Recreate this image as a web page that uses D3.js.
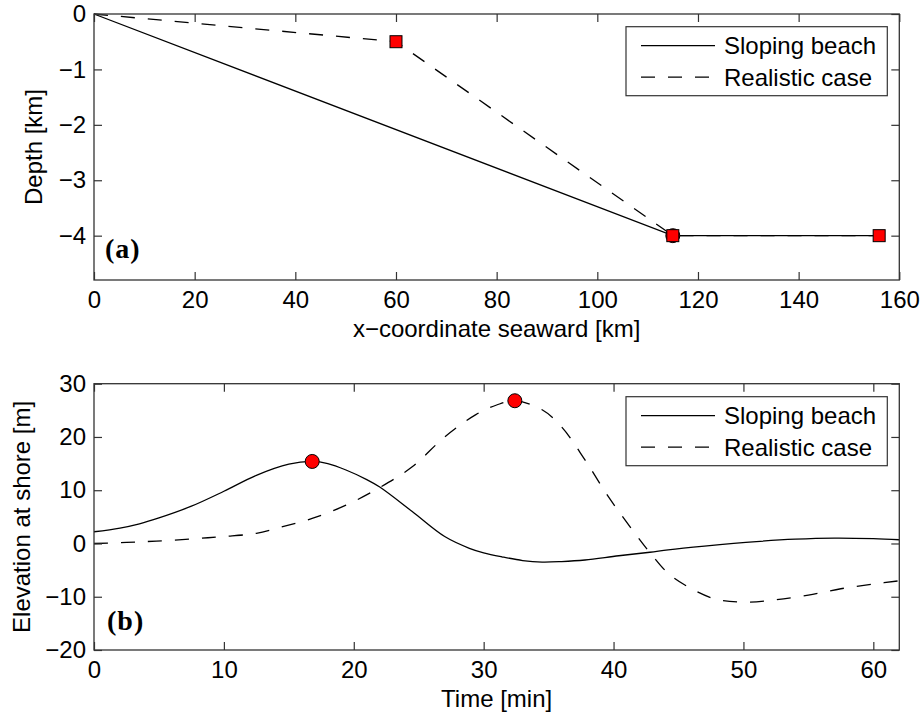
<!DOCTYPE html>
<html>
<head>
<meta charset="utf-8">
<script src="https://cdn.jsdelivr.net/npm/d3@7"></script>
<style>
  html, body { margin: 0; padding: 0; background: #fff; }
  svg { display: block; }
  text { font-family: "Liberation Sans", Arial, Helvetica, sans-serif; fill: #000; }
</style>
</head>
<body>
<svg id="chart" width="921" height="716"></svg>
<script>
// ---------- Data (panel a) ----------
const slopingX = [0, 115, 156];
const slopingDepth = [0, -4, -4];
const realisticX = [0, 60, 115, 156];
const realisticDepth = [0, -0.5, -4, -4];
const squareX = [60, 115, 156];
const squareDepth = [-0.5, -4, -4];
const circleX = [115];
const circleDepth = [-4];
const depthTicks = [0, -1, -2, -3, -4];
const xTicksA = [0, 20, 40, 60, 80, 100, 120, 140, 160];

// ---------- Data (panel b) ----------
const slopingT = [0, 2, 3.5, 5, 7.5, 10, 12.5, 15, 16.8, 18, 19.4, 21, 22, 24.5, 27, 28.9, 30, 31.4, 33, 34.5, 36, 37.8, 40.4, 42.8, 44.2, 47, 51, 54, 57, 60, 62];
const slopingElev = [2.2, 2.9, 3.7, 4.8, 7.0, 9.8, 12.8, 14.9, 15.4, 15.0, 13.8, 12.0, 10.6, 6.0, 1.3, -0.9, -1.75, -2.5, -3.2, -3.5, -3.4, -3.1, -2.3, -1.65, -1.2, -0.5, 0.35, 0.8, 1.0, 0.9, 0.7];
const realisticT = [0, 2.5, 4.8, 7.5, 9.9, 12.5, 14.3, 16.8, 19.4, 22, 24.5, 27, 29.4, 31, 32.4, 34.5, 36, 37.8, 39.6, 41.65, 42.8, 44.2, 45.7, 47.8, 50.1, 52.4, 55, 57.5, 60.1, 62];
const realisticElev = [0.0, 0.2, 0.45, 0.85, 1.3, 1.9, 3.0, 4.7, 7.2, 10.5, 14.4, 20.0, 24.2, 26.0, 26.8, 25.1, 21.9, 15.7, 8.8, 1.9, -1.7, -5.6, -8.1, -10.4, -11.0, -10.6, -9.7, -8.5, -7.6, -7.0];
const peakT = [16.8, 32.4];
const peakElev = [15.4, 26.8];
const elevTicks = [-20, -10, 0, 10, 20, 30];
const xTicksB = [0, 10, 20, 30, 40, 50, 60];

const legendLabels = ["Sloping beach", "Realistic case"];

// ---------- Layout ----------
const svg = d3.select("#chart");
const L = 94, R = 899.3;
const panelA = { top: 14, bottom: 280 };
const panelB = { top: 383.7, bottom: 650 };
const minus = s => String(s).replace("-", "\u2212");
const FS = 24;
const DASH = "14,13";

function drawAxes(g, x, y, top, bottom, xt, yt) {
  const ax = g.append("g").attr("transform", `translate(0,${bottom})`)
    .call(d3.axisBottom(x).tickValues(xt).tickSize(-8).tickPadding(11).tickFormat(d => minus(d)));
  const ay = g.append("g").attr("transform", `translate(${L},0)`)
    .call(d3.axisLeft(y).tickValues(yt).tickSize(-8).tickPadding(8).tickFormat(d => minus(d)));
  const at = g.append("g").attr("transform", `translate(0,${top})`)
    .call(d3.axisTop(x).tickValues(xt).tickSize(-8).tickFormat(""));
  const ar = g.append("g").attr("transform", `translate(${R},0)`)
    .call(d3.axisRight(y).tickValues(yt).tickSize(-8).tickFormat(""));
  [ax, ay, at, ar].forEach(a => {
    a.select(".domain").remove();
    a.selectAll("line").attr("stroke", "#333").attr("stroke-width", 1.2);
    a.selectAll("text").style("font-size", FS + "px").attr("fill", "#000")
      .style("font-family", '"Liberation Sans", Arial, sans-serif');
  });
  g.append("rect").attr("x", L).attr("y", top).attr("width", R - L).attr("height", bottom - top)
    .attr("fill", "none").attr("stroke", "#333").attr("stroke-width", 1.3);
}

function drawLegend(g, x0, y0) {
  g.append("rect").attr("x", x0).attr("y", y0).attr("width", 261.3).attr("height", 69)
    .attr("fill", "#fff").attr("stroke", "#333").attr("stroke-width", 1.2);
  const rows = [y0 + 19, y0 + 50.5];
  rows.forEach((ry, i) => {
    g.append("line").attr("x1", x0 + 15).attr("x2", x0 + 89).attr("y1", ry).attr("y2", ry)
      .attr("stroke", "#000").attr("stroke-width", 1.2)
      .attr("stroke-dasharray", i === 1 ? DASH : null);
    g.append("text").attr("x", x0 + 98).attr("y", ry).attr("dy", "0.35em")
      .style("font-size", FS + "px").text(legendLabels[i]);
  });
}

// ---------- Panel (a) ----------
{
  const g = svg.append("g");
  const x = d3.scaleLinear().domain([0, 160]).range([L, R]);
  const y = d3.scaleLinear().domain([-4.8, 0]).range([panelA.bottom, panelA.top]);
  const line = d3.line().x(d => x(d[0])).y(d => y(d[1]));
  g.append("path").datum(slopingX.map((v, i) => [v, slopingDepth[i]]))
    .attr("d", line).attr("fill", "none").attr("stroke", "#000").attr("stroke-width", 1.3);
  g.append("path").datum(realisticX.map((v, i) => [v, realisticDepth[i]]))
    .attr("d", line).attr("fill", "none").attr("stroke", "#000").attr("stroke-width", 1.3)
    .attr("stroke-dasharray", DASH);
  g.selectAll(".c").data(circleX.map((v, i) => [v, circleDepth[i]])).enter().append("circle")
    .attr("cx", d => x(d[0])).attr("cy", d => y(d[1])).attr("r", 7)
    .attr("fill", "#ff0000").attr("stroke", "#000").attr("stroke-width", 1);
  g.selectAll(".s").data(squareX.map((v, i) => [v, squareDepth[i]])).enter().append("rect")
    .attr("x", d => x(d[0]) - 6).attr("y", d => y(d[1]) - 6).attr("width", 12).attr("height", 12)
    .attr("fill", "#ff0000").attr("stroke", "#000").attr("stroke-width", 1);
  drawAxes(g, x, y, panelA.top, panelA.bottom, xTicksA, depthTicks);
  drawLegend(g, 626, 26.7);
  g.append("text").attr("x", 105).attr("y", 258).style("font-family", '"Liberation Serif", "DejaVu Serif", serif')
    .style("font-weight", "bold").style("font-size", "28px").style("letter-spacing", "1px").text("(a)");
  g.append("text").attr("x", (L + R) / 2).attr("y", 337).attr("text-anchor", "middle")
    .style("font-size", FS + "px").text("x\u2212coordinate seaward [km]");
  g.append("text").attr("transform", `translate(42,${(panelA.top + panelA.bottom) / 2}) rotate(-90)`)
    .attr("text-anchor", "middle").style("font-size", FS + "px").text("Depth [km]");
}

// ---------- Panel (b) ----------
{
  const g = svg.append("g");
  const x = d3.scaleLinear().domain([0, 62]).range([L, R]);
  const y = d3.scaleLinear().domain([-20, 30]).range([panelB.bottom, panelB.top]);
  const line = d3.line().x(d => x(d[0])).y(d => y(d[1])).curve(d3.curveCatmullRom.alpha(0.5));
  g.append("path").datum(slopingT.map((v, i) => [v, slopingElev[i]]))
    .attr("d", line).attr("fill", "none").attr("stroke", "#000").attr("stroke-width", 1.3);
  g.append("path").datum(realisticT.map((v, i) => [v, realisticElev[i]]))
    .attr("d", line).attr("fill", "none").attr("stroke", "#000").attr("stroke-width", 1.3)
    .attr("stroke-dasharray", DASH);
  g.selectAll(".p").data(peakT.map((v, i) => [v, peakElev[i]])).enter().append("circle")
    .attr("cx", d => x(d[0])).attr("cy", d => y(d[1])).attr("r", 7)
    .attr("fill", "#ff0000").attr("stroke", "#000").attr("stroke-width", 1);
  drawAxes(g, x, y, panelB.top, panelB.bottom, xTicksB, elevTicks);
  drawLegend(g, 626, 396.7);
  g.append("text").attr("x", 107).attr("y", 630).style("font-family", '"Liberation Serif", "DejaVu Serif", serif')
    .style("font-weight", "bold").style("font-size", "28px").style("letter-spacing", "1px").text("(b)");
  g.append("text").attr("x", (L + R) / 2).attr("y", 707).attr("text-anchor", "middle")
    .style("font-size", FS + "px").text("Time [min]");
  g.append("text").attr("transform", `translate(30,${(panelB.top + panelB.bottom) / 2}) rotate(-90)`)
    .attr("text-anchor", "middle").style("font-size", FS + "px").text("Elevation at shore [m]");
}
</script>
</body>
</html>
